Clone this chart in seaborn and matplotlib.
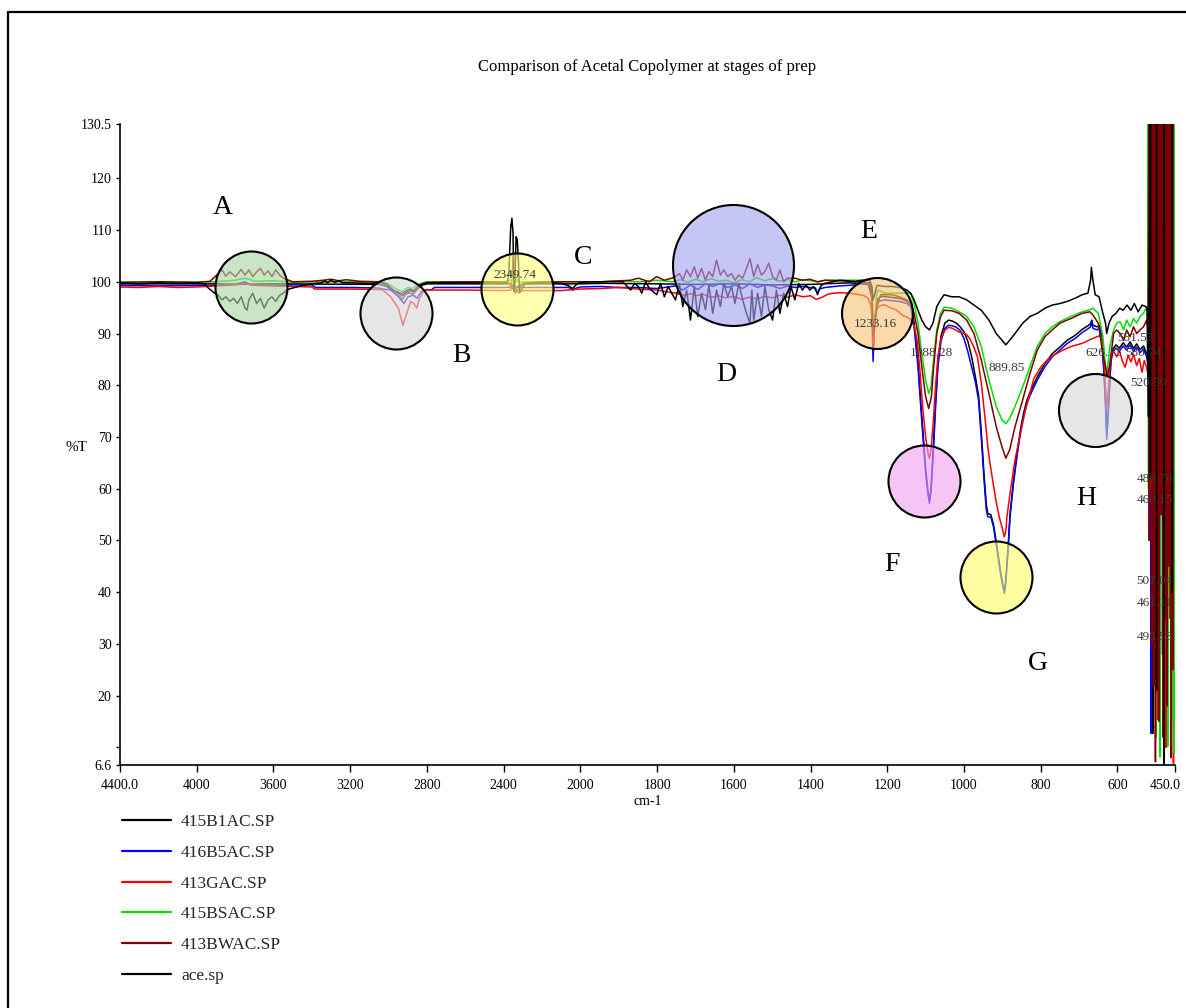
import numpy as np
import pandas as pd
import matplotlib
matplotlib.use("Agg")
import matplotlib.pyplot as plt
from matplotlib.lines import Line2D
from matplotlib.ticker import NullLocator
from matplotlib.transforms import ScaledTranslation
import seaborn as sns

# ---------------------------------------------------------------- data
# wavenumbers (cm-1) and %T, one pair of lists per spectrum
wn_415b1ac = [4400, 3900, 3800, 3600, 3050, 3010, 2980, 2950, 2929, 2910, 2890, 2870, 2850, 2820, 2800, 2360, 2345, 2330, 2300, 2000,
              1947, 1800, 1700, 1600, 1500, 1400, 1300, 1250, 1240, 1237, 1232, 1227, 1215, 1190, 1168, 1149, 1139, 1130, 1120, 1110,
              1100, 1094, 1090, 1086, 1080, 1074, 1068, 1060, 1050, 1040, 1030, 1020, 1010, 1000, 990, 980, 970, 962, 955, 948,
              942, 938, 930, 923, 914, 905, 900, 895, 892, 888, 884, 880, 871, 862, 853, 845, 836, 828, 809, 789,
              770, 750, 731, 711, 692, 677, 670, 667, 664, 653, 645, 640, 635, 631, 628, 625, 621, 617, 612, 604,
              595, 585, 576, 567, 558, 550, 541, 532, 524, 520]
t_415b1ac = [99.6, 99.6, 99.5, 99.6, 99.5, 99.1, 98.3, 97.9, 97.3, 97.9, 98.3, 98.0, 98.7, 99.4, 99.6, 99.6, 98.3, 99.0, 99.6, 99.6,
             99.7, 99.6, 99.5, 99.6, 99.4, 99.5, 99.8, 99.6, 97.0, 89.0, 93.0, 96.5, 97.2, 97.0, 96.8, 96.3, 95.6, 92.0, 84.5, 74.0,
             64.0, 59.5, 57.6, 60.0, 68.0, 77.0, 84.5, 89.5, 92.0, 92.6, 92.4, 92.0, 91.3, 90.3, 88.5, 85.5, 81.5, 78.0, 71.0, 63.0,
             57.0, 55.2, 55.0, 53.0, 48.8, 44.2, 42.0, 40.3, 41.6, 45.6, 50.0, 55.2, 61.6, 66.8, 71.3, 74.5, 77.1, 78.6, 81.6, 84.2,
             86.1, 87.4, 88.7, 89.6, 90.8, 91.5, 91.9, 92.6, 91.6, 91.3, 91.6, 88.6, 82.6, 76.6, 70.5, 73.6, 79.6, 85.1, 87.0, 87.8,
             87.2, 88.2, 87.4, 88.4, 87.1, 88.0, 86.9, 87.6, 86.1, 84.0]

wn_416b5ac = [4400, 4200, 4000, 3900, 3800, 3748, 3720, 3600, 3500, 3400, 3380, 3200, 3050, 3029, 2989, 2949, 2919, 2899, 2869, 2853,
              2829, 2799, 2779, 2760, 2400, 2360, 2345, 2335, 2300, 2060, 2040, 2020, 2000,
              1947, 1900, 1849, 1801, 1752, 1733, 1713, 1694, 1674, 1655, 1635, 1616, 1597, 1577, 1558, 1538, 1519, 1499, 1480, 1460,
              1441, 1421, 1402, 1387, 1382, 1377, 1363, 1324, 1285, 1266, 1246, 1241, 1237, 1233, 1224, 1207, 1168, 1149, 1139, 1130,
              1120, 1110, 1100, 1094, 1090, 1086, 1080, 1074, 1068, 1060, 1050, 1040, 1030, 1020, 1010, 1000, 990, 980, 970, 962,
              955, 948, 942, 938, 930, 923, 914, 905, 900, 895, 892, 888, 884, 880, 871, 862, 853, 845, 836, 828,
              809, 789, 770, 750, 731, 711, 692, 677, 670, 667, 664, 653, 645, 640, 635, 631, 628, 625, 621, 617,
              612, 604, 595, 585, 576, 567, 558, 550, 541, 532, 524, 520]
t_416b5ac = [99.3, 99.2, 99.3, 99.3, 99.5, 100.0, 99.4, 99.3, 99.4, 99.4, 98.9, 98.9, 98.8, 98.6, 98.4, 97.1, 95.8, 97.1, 97.4, 96.8,
             98.1, 98.5, 98.4, 98.9, 98.9, 99.0, 99.6, 98.9, 98.9, 98.9, 98.4, 98.8, 99.0,
             99.1, 98.9, 98.9, 98.7, 99.2, 98.4, 99.4, 98.5, 99.6, 99.1, 99.7, 98.9, 99.4, 98.7, 99.6, 98.9, 99.4, 99.2, 98.7, 99.2,
             98.9, 99.1, 98.9, 98.8, 97.5, 98.6, 98.9, 99.2, 99.4, 99.6, 99.4, 97.5, 84.6, 92.6, 96.2, 96.5, 96.2, 95.8, 95.2, 91.3,
             83.6, 73.0, 63.0, 59.0, 57.2, 59.5, 67.0, 76.0, 83.5, 88.5, 91.0, 91.6, 91.5, 91.2, 90.6, 89.0, 86.5, 83.5, 80.5, 77.1,
             70.0, 62.0, 56.0, 54.6, 54.5, 52.6, 48.2, 43.6, 41.5, 39.8, 41.0, 45.0, 49.5, 54.6, 61.0, 66.2, 70.7, 73.9, 76.5, 78.0,
             81.0, 83.6, 85.5, 86.8, 88.1, 89.0, 90.2, 90.9, 91.3, 92.4, 91.0, 90.7, 91.2, 88.0, 82.0, 76.0, 69.6, 73.0, 79.0, 84.5,
             86.4, 87.2, 86.6, 87.6, 86.8, 87.8, 86.5, 87.4, 86.3, 87.0, 85.5, 84.0]

wn_413gac = [4400, 4300, 4200, 4100, 4000, 3900, 3800, 3748, 3700, 3600, 3500, 3400, 3385, 3200, 3050, 3029, 2989, 2949, 2925, 2905,
             2885, 2869, 2853, 2839, 2819, 2799, 2789, 2600, 2400, 2365, 2355, 2349, 2345, 2340, 2330, 2320, 2300, 2100, 2000,
             1947, 1900, 1850, 1800, 1770, 1750, 1730, 1710, 1700, 1680, 1660, 1640, 1620, 1600, 1580, 1560, 1540, 1520, 1500, 1480,
             1460, 1440, 1420, 1400, 1385, 1370, 1355, 1340, 1320, 1300, 1280, 1260, 1250, 1243, 1239, 1236, 1233, 1228, 1220, 1210,
             1200, 1190, 1180, 1170, 1160, 1150, 1140, 1130, 1122, 1115, 1108, 1100, 1094, 1090, 1086, 1080, 1074, 1068, 1060, 1050,
             1040, 1030, 1020, 1013, 1000, 993, 985, 975, 965, 955, 945, 937, 931, 924, 917, 908, 901, 895, 891, 888,
             880, 867, 853, 840, 828, 818, 799, 779, 750, 721, 692, 672, 653, 645, 640, 635, 631, 628, 624, 620,
             615, 610, 602, 595, 588, 580, 572, 565, 558, 550, 543, 536, 530, 524, 520]
t_413gac = [99.0, 98.9, 99.1, 98.9, 99.0, 99.2, 99.4, 99.7, 99.3, 99.2, 99.1, 99.0, 98.6, 98.6, 98.5, 98.4, 97.1, 94.9, 91.6, 93.9,
            96.2, 95.8, 94.9, 96.8, 98.1, 98.5, 98.4, 98.4, 98.3, 98.4, 101.0, 105.8, 100.5, 97.8, 98.2, 97.8, 98.3, 98.3, 98.6,
            98.7, 98.9, 98.6, 98.4, 98.0, 97.8, 97.4, 97.7, 97.3, 97.6, 97.0, 97.3, 96.9, 97.2, 96.6, 97.0, 96.7, 97.2, 96.9, 97.4,
            97.0, 97.5, 97.1, 97.3, 96.6, 97.0, 97.6, 97.8, 97.9, 97.8, 97.6, 97.3, 96.8, 95.5, 92.8, 87.4, 91.5, 94.8, 95.3, 95.6,
            95.3, 94.9, 94.7, 94.2, 93.5, 93.2, 92.8, 91.5, 88.5, 83.0, 76.0, 70.0, 67.0, 65.8, 67.5, 73.0, 80.0, 85.5, 89.0, 90.6,
            91.2, 91.0, 90.6, 90.3, 90.0, 89.8, 89.0, 87.5, 85.5, 80.5, 73.5, 67.5, 64.3, 61.0, 57.8, 54.5, 52.6, 50.7, 51.8, 54.6,
            59.1, 65.6, 70.7, 75.2, 78.5, 81.3, 83.6, 85.2, 86.5, 87.5, 88.1, 88.8, 89.4, 89.6, 88.5, 85.0, 80.0, 75.6, 79.0, 83.5,
            86.3, 86.5, 85.5, 86.8, 84.8, 83.5, 85.8, 84.5, 86.0, 83.8, 85.2, 82.5, 84.8, 83.5, 82.0]

wn_415bsac = [4400, 4200, 4000, 3900, 3800, 3748, 3728, 3700, 3600, 3500, 3300, 3100, 3020, 2990, 2960, 2940, 2929, 2915, 2895, 2875,
              2855, 2830, 2800, 2400, 2360, 2350, 2340, 2330, 2320, 2300, 2000,
              1947, 1900, 1850, 1800, 1760, 1740, 1720, 1700, 1680, 1660, 1640, 1620, 1600, 1580, 1560, 1540, 1520, 1500, 1480, 1460,
              1440, 1420, 1400, 1380, 1360, 1300, 1260, 1246, 1240, 1237, 1232, 1227, 1222, 1207, 1168, 1139, 1130, 1120, 1110, 1100,
              1092, 1086, 1081, 1071, 1061, 1052, 1032, 1013, 993, 974, 955, 935, 916, 901, 891, 881, 867, 847, 828, 809,
              789, 770, 750, 721, 692, 672, 664, 650, 638, 631, 627, 620, 610, 602, 593, 584, 576, 567, 558, 550,
              541, 532, 524, 520]
t_415bsac = [99.9, 100.0, 99.9, 100.0, 100.3, 100.7, 100.5, 100.1, 100.2, 99.9, 100.0, 100.0, 99.9, 99.4, 98.6, 98.3, 98.1, 98.6, 98.9, 98.7,
             99.2, 99.7, 100.0, 100.0, 100.4, 101.0, 99.6, 100.5, 99.8, 100.0, 100.0,
             100.0, 100.2, 100.0, 100.3, 100.0, 100.4, 99.9, 100.5, 100.0, 100.6, 100.1, 100.3, 99.8, 100.4, 100.0, 100.8, 100.2, 100.6, 100.1, 100.5,
             100.0, 100.4, 100.2, 100.0, 100.3, 100.3, 100.3, 100.3, 99.0, 91.3, 93.0, 98.0, 98.4, 97.8, 97.8, 97.8, 95.8, 92.0, 86.2, 81.0,
             78.4, 79.7, 83.6, 90.7, 93.9, 95.1, 94.9, 94.2, 93.3, 91.3, 87.5, 81.0, 75.9, 73.3, 72.6, 73.6, 75.9, 79.7, 83.6, 87.5,
             90.0, 91.3, 92.3, 93.3, 94.2, 94.6, 94.9, 93.9, 89.4, 83.6, 82.5, 87.5, 90.7, 92.0, 92.3, 90.7, 92.6, 91.3, 92.9, 92.0,
             93.3, 93.9, 95.2, 93.0]

wn_413bwac = [4400, 4200, 4000, 3930, 3888, 3868, 3848, 3828, 3798, 3768, 3748, 3728, 3708, 3688, 3668, 3648, 3628, 3608, 3588, 3568,
              3548, 3528, 3500, 3400, 3340, 3300, 3260, 3220, 3150, 3050, 3010, 2990, 2960, 2940, 2929, 2915, 2895, 2875, 2855, 2830,
              2800, 2600, 2400, 2370, 2355, 2345, 2335, 2320, 2300, 2200, 2000,
              1947, 1869, 1849, 1820, 1801, 1781, 1762, 1752, 1742, 1733, 1723, 1713, 1703, 1694, 1684, 1674, 1665, 1655, 1645, 1635,
              1626, 1616, 1606, 1597, 1587, 1577, 1567, 1558, 1548, 1538, 1528, 1519, 1509, 1499, 1489, 1480, 1470, 1460, 1441, 1421,
              1402, 1382, 1363, 1324, 1266, 1246, 1240, 1237, 1232, 1227, 1217, 1207, 1188, 1168, 1149, 1139, 1130, 1120, 1110, 1100,
              1092, 1085, 1079, 1071, 1061, 1052, 1032, 1013, 993, 974, 955, 935, 916, 901, 891, 881, 867, 847, 828, 809,
              789, 770, 750, 721, 692, 672, 664, 650, 638, 631, 627, 620, 610, 602, 593, 584, 576, 567, 558, 550,
              541, 532, 524, 520]
t_413bwac = [99.9, 100.0, 99.9, 100.1, 101.6, 102.3, 101.1, 101.9, 101.0, 102.4, 101.3, 102.3, 101.0, 101.9, 102.6, 101.3, 102.1, 101.0, 102.3, 101.3,
             100.7, 100.4, 100.0, 100.1, 100.3, 100.5, 100.2, 100.4, 100.1, 100.0, 99.6, 98.9, 97.8, 97.1, 96.5, 97.4, 97.9, 97.6, 98.3, 99.4,
             99.9, 100.0, 100.0, 99.7, 98.6, 99.5, 98.1, 98.6, 99.7, 100.0, 100.0,
             100.0, 100.3, 100.7, 100.0, 101.0, 100.3, 100.7, 101.0, 101.6, 100.3, 102.3, 101.0, 102.9, 100.7, 102.6, 100.3, 102.0, 101.0, 104.2, 101.3,
             102.3, 101.0, 101.6, 100.3, 101.3, 100.7, 102.6, 104.5, 101.0, 103.3, 101.3, 102.0, 103.6, 101.0, 100.3, 102.3, 100.0, 100.7, 100.7, 100.3,
             100.5, 100.0, 100.3, 100.2, 100.0, 99.8, 98.0, 89.4, 92.0, 95.2, 97.5, 97.5, 97.5, 97.1, 96.5, 95.8, 93.9, 90.0, 83.6, 77.8,
             75.5, 77.8, 83.6, 90.0, 93.3, 94.5, 94.4, 93.9, 92.6, 90.0, 84.9, 78.4, 72.0, 68.1, 65.9, 67.5, 72.0, 77.2, 82.3, 86.8,
             89.4, 90.7, 92.0, 92.9, 93.9, 94.2, 93.6, 92.0, 86.0, 83.6, 81.5, 84.0, 90.0, 90.7, 90.0, 88.7, 90.7, 89.4, 91.3, 90.0,
             90.7, 91.3, 92.6, 91.0]

wn_ace = [4400, 4300, 4200, 4100, 4000, 3960, 3940, 3920, 3900, 3888, 3868, 3848, 3828, 3808, 3788, 3768, 3748, 3738, 3728, 3708,
          3688, 3668, 3648, 3628, 3608, 3588, 3568, 3548, 3528, 3508, 3450, 3400, 3350, 3330, 3320, 3300, 3280, 3260, 3240, 3200,
          3100, 3040, 3010, 2990, 2970, 2950, 2930, 2910, 2890, 2870, 2850, 2830, 2800, 2600, 2400, 2380, 2373, 2363, 2357, 2351,
          2347, 2341, 2335, 2329, 2323, 2317, 2309, 2289, 2200, 2100, 2060, 2040, 2020, 2000,
          1980, 1947, 1889, 1869, 1859, 1849, 1840, 1830, 1820, 1801, 1791, 1781, 1771, 1762, 1752, 1742, 1733, 1723, 1713, 1703,
          1694, 1684, 1674, 1665, 1655, 1645, 1635, 1626, 1616, 1606, 1597, 1587, 1577, 1567, 1558, 1553, 1548, 1538, 1528, 1519,
          1509, 1499, 1489, 1480, 1470, 1460, 1451, 1441, 1431, 1421, 1412, 1402, 1392, 1382, 1373, 1363, 1344, 1324, 1305, 1285,
          1266, 1246, 1240, 1237, 1233, 1227, 1207, 1188, 1168, 1159, 1149, 1139, 1130, 1120, 1110, 1100, 1090, 1081, 1071, 1061,
          1052, 1032, 1013, 993, 974, 955, 935, 916, 901, 891, 881, 867, 847, 828, 809, 789, 770, 750, 731, 711,
          692, 677, 670, 668, 664, 658, 648, 638, 631, 628, 622, 614, 604, 594, 585, 575, 565, 556, 546, 536,
          526, 523, 521, 519]
t_ace = [99.8, 99.6, 99.8, 99.7, 99.8, 99.6, 98.8, 98.2, 97.6, 97.4, 96.5, 97.1, 96.2, 96.8, 95.8, 97.1, 94.9, 94.5, 96.5, 97.8,
         95.8, 96.8, 94.9, 96.5, 97.1, 96.2, 97.4, 97.8, 98.5, 98.7, 99.3, 99.6, 99.8, 100.2, 99.8, 100.3, 99.9, 100.2, 99.8, 99.8,
         99.7, 99.8, 99.4, 98.8, 98.3, 98.0, 97.7, 98.2, 98.6, 98.3, 98.9, 99.5, 99.8, 99.8, 99.7, 99.8, 101.6, 110.6, 112.3, 109.4,
         98.1, 100.4, 108.7, 108.1, 104.2, 98.1, 98.4, 99.6, 99.8, 99.7, 99.2, 98.7, 99.5, 99.9,
         100.0, 100.0, 100.0, 98.4, 99.7, 99.1, 97.8, 100.0, 98.7, 97.5, 99.7, 97.1, 99.1, 97.8, 96.5, 99.7, 95.2, 98.4, 92.6, 99.1,
         93.3, 97.8, 94.6, 99.4, 93.9, 98.4, 95.2, 99.7, 97.1, 99.1, 95.8, 99.7, 96.5, 93.9, 92.0, 98.4, 92.6, 97.8, 93.3, 99.1,
         94.6, 92.6, 98.4, 93.9, 97.8, 95.2, 99.1, 96.5, 99.7, 98.4, 99.4, 98.4, 99.1, 97.8, 99.2, 99.7, 100.0, 100.3, 100.2, 100.0,
         100.3, 100.3, 99.0, 96.5, 97.5, 99.3, 99.1, 99.1, 98.9, 98.7, 98.4, 97.8, 96.5, 94.5, 92.6, 91.3, 90.7, 92.0, 95.2, 96.5,
         97.5, 97.1, 97.1, 96.5, 95.5, 94.5, 92.6, 90.0, 88.7, 87.8, 88.7, 90.0, 92.0, 93.3, 93.9, 94.9, 95.5, 95.8, 96.2, 96.8,
         97.5, 97.8, 100.3, 102.8, 100.3, 97.5, 97.1, 93.9, 92.0, 90.0, 92.0, 93.3, 93.9, 94.9, 94.5, 95.5, 94.5, 95.8, 94.2, 95.5,
         95.2, 95.0, 83.6, 73.9]

# saturated detector region below ~520 cm-1: each spike rises off the top of the scale
# and falls to the %T read at its lowest point
band_wn_415b1ac = [508, 488, 468]
band_low_415b1ac = [12.7, 28, 55]
band_wn_416b5ac = [513, 503, 493, 483, 473, 463, 455]
band_low_416b5ac = [12.7, 50, 20, 60, 18, 40, 25]
band_wn_413gac = [515, 504, 494, 484, 474, 464, 454]
band_low_413gac = [60, 25, 15.3, 62, 10, 35, 6.9]
band_wn_415bsac = [519, 509, 499, 489, 479, 469, 459, 452]
band_low_415bsac = [60, 40, 12, 8.2, 45, 10.2, 15, 8.8]
band_wn_413bwac = [517, 511, 506, 501, 496, 491, 486, 481, 476, 471, 466, 461, 456]
band_low_413bwac = [50, 30, 22, 7.2, 40, 15, 55, 12, 35, 18, 45, 8, 25]
band_wn_ace = [514, 498, 478, 458]
band_low_ace = [62, 21, 4, 40]
band_top = 140  # off-scale value reached by each spike

series_names = ["415B1AC.SP", "416B5AC.SP", "413GAC.SP", "415BSAC.SP", "413BWAC.SP", "ace.sp"]
series_wn = [wn_415b1ac, wn_416b5ac, wn_413gac, wn_415bsac, wn_413bwac, wn_ace]
series_t = [t_415b1ac, t_416b5ac, t_413gac, t_415bsac, t_413bwac, t_ace]
series_band_wn = [band_wn_415b1ac, band_wn_416b5ac, band_wn_413gac, band_wn_415bsac, band_wn_413bwac, band_wn_ace]
series_band_low = [band_low_415b1ac, band_low_416b5ac, band_low_413gac, band_low_415bsac, band_low_413bwac, band_low_ace]

# tick values / labels
x_ticks = [4400, 4000, 3600, 3200, 2800, 2400, 2000, 1800, 1600, 1400, 1200, 1000, 800, 600, 450]
x_tick_labels = ["4400.0", "4000", "3600", "3200", "2800", "2400", "2000", "1800", "1600",
                 "1400", "1200", "1000", "800", "600", "450.0"]
y_ticks = [6.6, 10, 20, 30, 40, 50, 60, 70, 80, 90, 100, 110, 120, 130.5]
y_tick_labels = ["6.6", "", "20", "30", "40", "50", "60", "70", "80", "90", "100", "110", "120", "130.5"]

# highlighted regions (circle centres) and their letters
circle_wn = [3716, 2959, 2332, 1603, 1228, 1103, 916, 658]
circle_t = [99.0, 94.0, 98.6, 103.2, 93.9, 61.5, 42.9, 75.3]
letter_text = ["A", "B", "C", "D", "E", "F", "G", "H"]
letter_wn = [3867, 2619, 1993, 1619, 1249, 1189, 807, 682]
letter_t = [114.3, 85.8, 104.6, 82.0, 109.7, 45.3, 26.3, 58.2]

# peak labels
peak_text = ["2349.74", "1233.16", "1088.28", "889.85", "626.13", "580.74", "581.53", "520.59",
             "486.78", "460.15", "507.04", "461.11", "493.58"]
peak_wn = [2343, 1231, 1085, 890, 637, 533, 554, 520, 502, 502, 503, 502, 502]
peak_t = [101.3, 91.8, 86.2, 83.3, 86.2, 86.2, 89.1, 80.4, 61.9, 57.8, 42.2, 37.9, 31.3]

# ---------------------------------------------------------------- styling
line_colors = ["#000000", "#0000ff", "#ff0000", "#00e000", "#800000", "#000000"]
circle_colors = ["#a8d6a2", "#d8d8d8", "#ffff80", "#a4a4f2", "#f8c276", "#f2a2f2", "#ffff6a", "#d8d8d8"]
circle_radius_px = [36, 36, 36, 60.5, 35.5, 36, 36, 36.5]

for w, t in zip(series_wn, series_t):
    assert len(w) == len(t)
for w, t in zip(series_band_wn, series_band_low):
    assert len(w) == len(t)

sns.set_theme(style="white")
plt.rcParams["font.family"] = ["Liberation Serif", "DejaVu Serif"]

W, H = 1186, 1008
fig = plt.figure(figsize=(W / 100, H / 100), dpi=100)
fig.patch.set_facecolor("white")
ax = fig.add_axes([120 / W, 1 - 765 / H, (1175 - 120) / W, (765 - 124) / H])
ax.set_facecolor("white")


def fwd(x):
    x = np.asarray(x, dtype=float)
    return np.where(x >= 2000, x, 2 * x - 2000)


def inv(u):
    u = np.asarray(u, dtype=float)
    return np.where(u >= 2000, u, (u + 2000) / 2)


ax.set_xscale("function", functions=(fwd, inv))

for name, w, t, bw, bl, col in zip(series_names, series_wn, series_t,
                                   series_band_wn, series_band_low, line_colors):
    ww, tt = list(w), list(t)
    for c, lo in zip(bw, bl):
        ww += [c + 0.5, c, c - 0.5]
        tt += [band_top, lo, band_top]
    df = pd.DataFrame({"wn": ww, "T": tt})
    sns.lineplot(data=df, x="wn", y="T", ax=ax, color=col, linewidth=1.1,
                 sort=False, estimator=None, legend=False, zorder=2)

ax.set_xlim(4400, 450)
ax.set_ylim(6.6, 130.5)

# circles
for cw, ct, cc, r in zip(circle_wn, circle_t, circle_colors, circle_radius_px):
    d_pt = 2 * r * 72 / 100
    ax.scatter([cw], [ct], s=d_pt ** 2, facecolor=matplotlib.colors.to_rgba(cc, 0.62),
               edgecolor="black", linewidth=1.5, zorder=3, clip_on=False)

for s, lw_, lt in zip(letter_text, letter_wn, letter_t):
    ax.text(lw_, lt, s, fontsize=20, ha="center", va="center", color="black", zorder=6)

for s, pw, pt in zip(peak_text, peak_wn, peak_t):
    ax.text(pw, pt, s, fontsize=9.5, ha="center", va="center", color="#3a3a3a", zorder=3.5)

# axes cosmetics
ax.set_xticks(x_ticks)
ax.set_xticklabels(x_tick_labels)
ax.xaxis.set_minor_locator(NullLocator())
ax.set_yticks(y_ticks)
ax.set_yticklabels(y_tick_labels)
ax.yaxis.set_minor_locator(NullLocator())
ax.tick_params(axis="x", bottom=True, direction="out", length=5, width=1, pad=5,
               labelsize=10, colors="black")
ax.tick_params(axis="y", left=True, direction="out", length=3, width=1, pad=3,
               labelsize=10, colors="black")
for side in ["top", "right"]:
    ax.spines[side].set_visible(False)
for side in ["left", "bottom"]:
    ax.spines[side].set_color("black")
    ax.spines[side].set_linewidth(1.2)
ax.grid(False)

# keep the last tick label inside the page
last_lab = ax.get_xticklabels()[-1]
last_lab.set_transform(last_lab.get_transform() + ScaledTranslation(-7 / 72, 0, fig.dpi_scale_trans))

ax.set_xlabel("cm-1", fontsize=10, labelpad=2, color="black")
ax.set_ylabel("%T", fontsize=11, rotation=0, color="black", ha="center", va="center")
ax.yaxis.set_label_coords(-0.041, 0.496)

fig.text(647 / W, 1 - 67 / H, "Comparison of Acetal Copolymer at stages of prep",
         ha="center", va="center", fontsize=12, color="black")

handles = [Line2D([], [], color=c, lw=1.6) for c in line_colors]
fig.legend(handles, series_names, loc="upper left", bbox_to_anchor=(122 / W, 1 - 814 / H),
           bbox_transform=fig.transFigure, frameon=False, fontsize=12.5,
           handlelength=2.8, handletextpad=0.6, labelspacing=0.84,
           borderpad=0, borderaxespad=0)

# page frame (left and top edges visible)
fig.add_artist(Line2D([8 / W, 8 / W], [0, 1 - 12 / H], color="black", lw=1.6,
                      transform=fig.transFigure))
fig.add_artist(Line2D([8 / W, 1], [1 - 12 / H, 1 - 12 / H], color="black", lw=1.6,
                      transform=fig.transFigure))

fig.savefig("out.png", dpi=100)
